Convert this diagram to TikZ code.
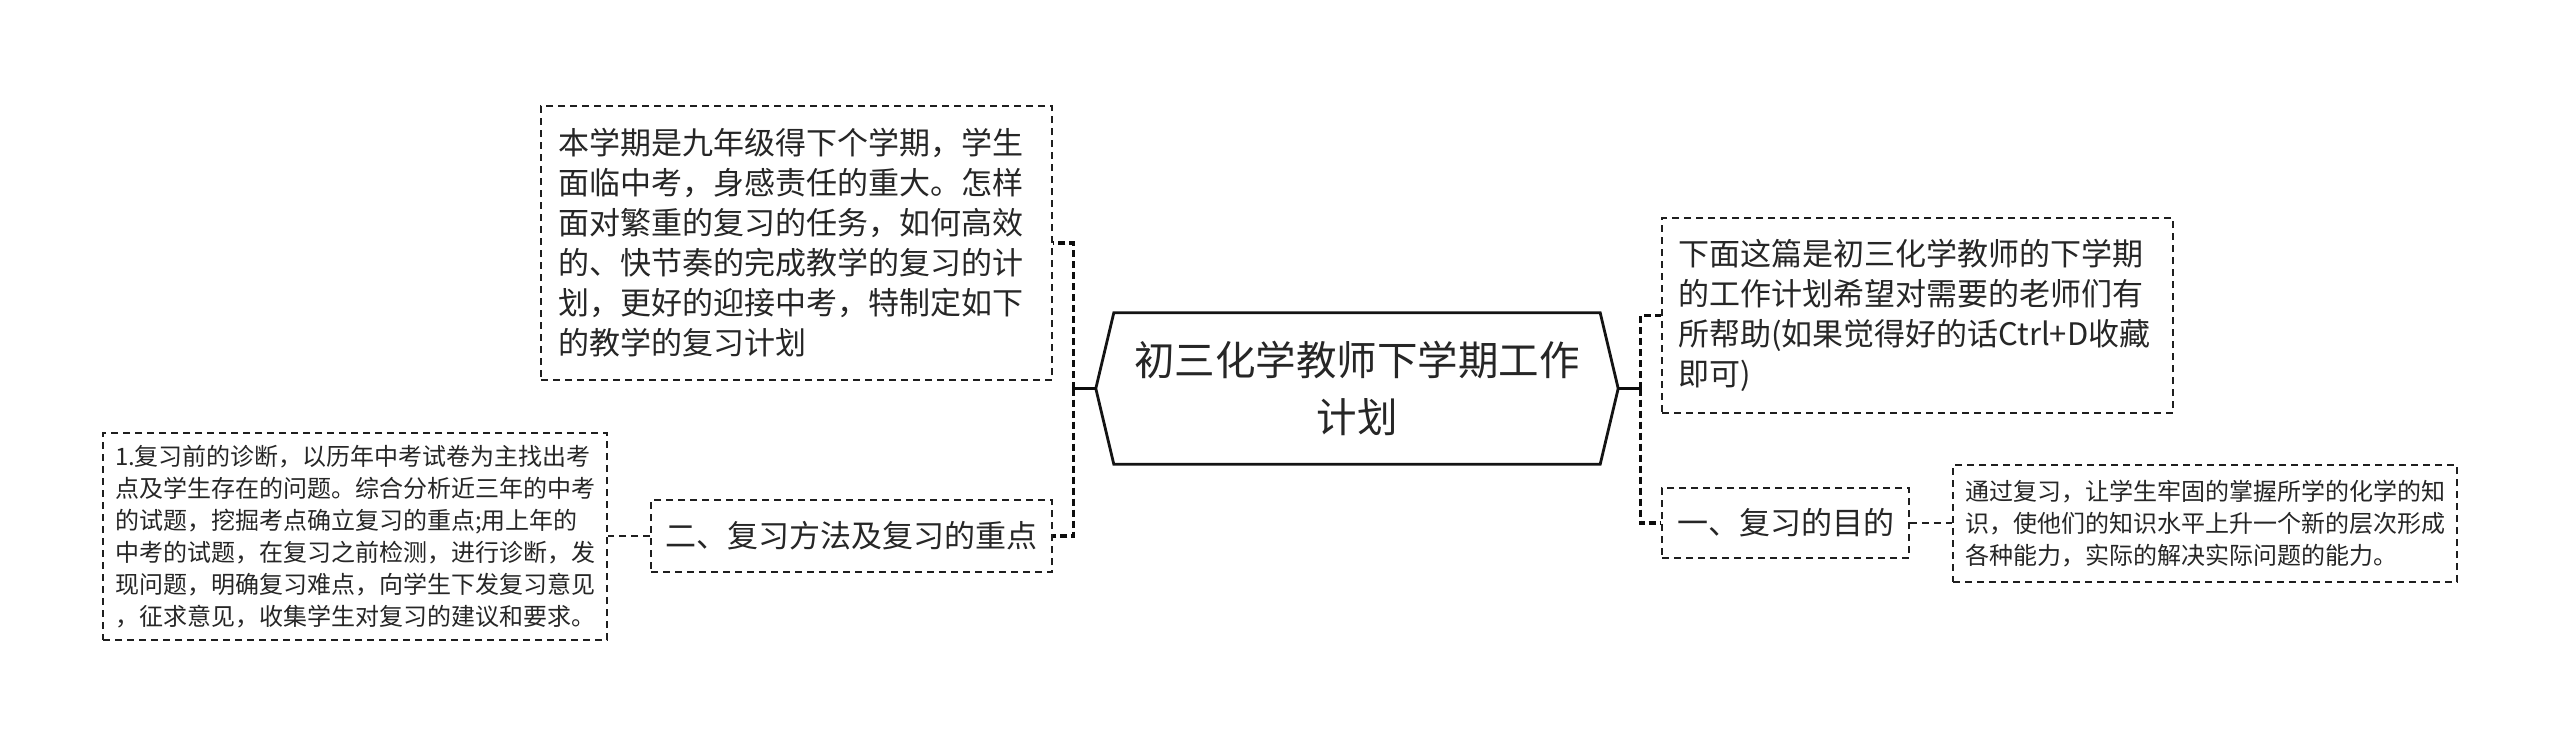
\documentclass[tikz,border=0pt]{standalone}
\usepackage{fontspec}
\setmainfont{Noto Sans CJK SC}
\usetikzlibrary{calc}
\begin{document}
\begin{tikzpicture}[x=1pt,y=-1pt,
  box/.style={draw=black!88, line width=1.8pt, dash pattern=on 7pt off 5pt, inner sep=0pt, align=left, text=black!85},
  lbl/.style={draw=black!88, line width=1.8pt, dash pattern=on 7pt off 5pt, inner sep=0pt, align=center, text=black!85},
  conn/.style={draw=black!95, line width=3.2pt, dash pattern=on 7pt off 4pt},
  link/.style={draw=black!88, line width=1.8pt, dash pattern=on 7pt off 5pt},
  stem/.style={draw=black!95, line width=3pt},
  bigtext/.style={font=\fontsize{31pt}{40pt}\selectfont},
  smalltext/.style={font=\fontsize{24pt}{32pt}\selectfont}]
\fill[white] (0,0) rectangle (2560,744);
\useasboundingbox (0,0) rectangle (2560,744);

% central node
\node[align=center, text=black!85, minimum width=486pt, minimum height=151pt, inner sep=0pt,
      font=\fontsize{40.5pt}{57pt}\selectfont] (c) at (1357,388.5) {初三化学教师下学期工作\\计划};
\coordinate (cL) at ($(c.west)+(-18,0)$);
\coordinate (cR) at ($(c.east)+(18,0)$);
\draw[line width=2.8pt, draw=black!92, line join=miter]
  (c.north west) -- (c.north east) -- (cR) -- (c.south east) -- (c.south west) -- (cL) -- cycle;

% left side
\node[box, bigtext, minimum width=511pt, minimum height=274pt, text width=477pt] (tl) at (796.5,243)
  {本学期是九年级得下个学期，学生\\面临中考，身感责任的重大。怎样\\面对繁重的复习的任务，如何高效\\的、快节奏的完成教学的复习的计\\划，更好的迎接中考，特制定如下\\的教学的复习计划};
\node[lbl, bigtext, minimum width=401pt, minimum height=72pt] (g2) at (851.5,536) {二、复习方法及复习的重点};
\node[box, smalltext, minimum width=504pt, minimum height=207pt, text width=480pt] (lb) at (355,536.5)
  {1.复习前的诊断，以历年中考试卷为主找出考\\点及学生存在的问题。综合分析近三年的中考\\的试题，挖掘考点确立复习的重点;用上年的\\中考的试题，在复习之前检测，进行诊断，发\\现问题，明确复习难点，向学生下发复习意见\\，征求意见，收集学生对复习的建议和要求。};

% right side
\node[box, bigtext, minimum width=511pt, minimum height=195pt, text width=479pt] (rt) at (1917.5,315.5)
  {下面这篇是初三化学教师的下学期\\的工作计划希望对需要的老师们有\\所帮助(如果觉得好的话Ctrl+D收藏\\即可)};
\node[lbl, bigtext, minimum width=247pt, minimum height=70pt] (g1) at (1785.5,523) {一、复习的目的};
\node[box, smalltext, minimum width=504pt, minimum height=117pt, text width=480pt] (rb) at (2205,523.5)
  {通过复习，让学生牢固的掌握所学的化学的知\\识，使他们的知识水平上升一个新的层次形成\\各种能力，实际的解决实际问题的能力。};

% connectors
\coordinate (jL) at ($(cL)+(-22,0)$);
\coordinate (jR) at ($(cR)+(22,0)$);
\draw[stem] (cL) -- (jL);
\draw[stem] (cR) -- (jR);
\draw[conn] (jL) |- (tl.east);
\draw[conn] (jL) |- (g2.east);
\draw[conn] (jR) |- (rt.west);
\draw[conn] (jR) |- (g1.west);
\draw[link] (g2.west) -- (lb.east |- g2.west);
\draw[link] (g1.east) -- (rb.west |- g1.east);
\end{tikzpicture}
\end{document}
